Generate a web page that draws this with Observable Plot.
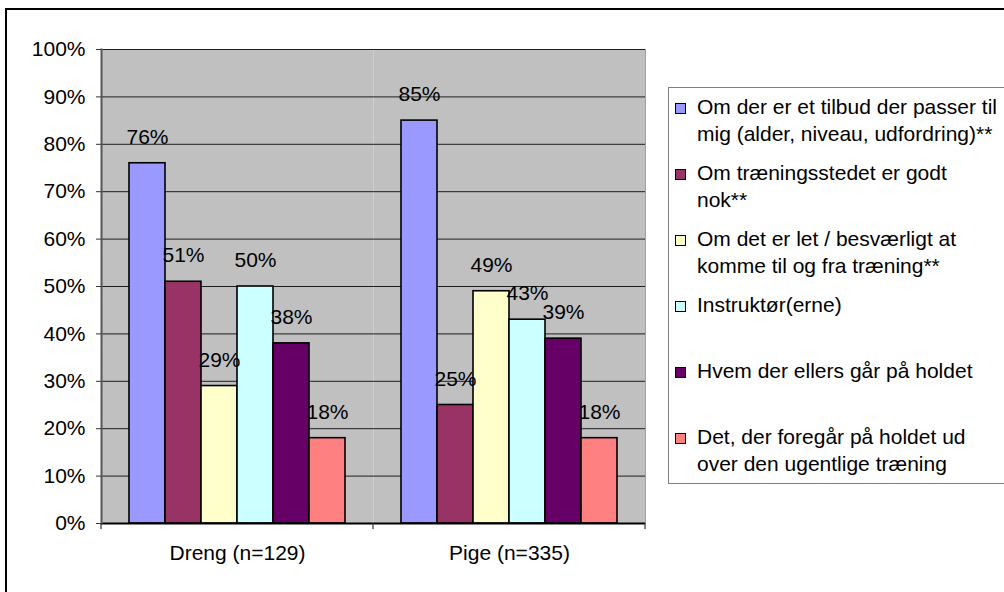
<!DOCTYPE html>
<html>
<head>
<meta charset="utf-8">
<script src="https://cdn.jsdelivr.net/npm/d3@7"></script>
<script src="https://cdn.jsdelivr.net/npm/@observablehq/plot@0.6"></script>
<style>
  html, body { margin: 0; padding: 0; background: #fff; }
  body { font-family: "Liberation Sans", Arial, sans-serif; }
  #wrap { position: relative; width: 1004px; height: 592px; overflow: hidden; background: #fff; }
  #outer { position: absolute; left: 5px; top: 8px; width: 1100px; height: 700px; border: 2px solid #000; }
  #chart { position: absolute; left: 0; top: 0; }
  #legend { position: absolute; left: 668px; top: 87px; width: 420px; height: 395px; border: 1px solid #808080; background: #fff; }
  .item { position: absolute; left: 0; width: 420px; height: 66px; }
  .sw { position: absolute; left: 6px; top: 9px; width: 11px; height: 11px; box-sizing: border-box; border: 1px solid #000; }
  .lab { position: absolute; left: 28px; top: 0; font-size: 21px; line-height: 26.5px; white-space: pre; color: #000; }
</style>
</head>
<body>
<div id="wrap">
  <div id="outer"></div>
  <div id="chart"></div>
  <div id="legend"></div>
</div>
<script>
// ---- data ----
const groups = ["Dreng (n=129)", "Pige (n=335)"];
const series = [
  "Om der er et tilbud der passer til mig (alder, niveau, udfordring)**",
  "Om træningsstedet er godt nok**",
  "Om det er let / besværligt at komme til og fra træning**",
  "Instruktør(erne)",
  "Hvem der ellers går på holdet",
  "Det, der foregår på holdet ud over den ugentlige træning"
];
const legendLabels = [
  "Om der er et tilbud der passer til\nmig (alder, niveau, udfordring)**",
  "Om træningsstedet er godt\nnok**",
  "Om det er let / besværligt at\nkomme til og fra træning**",
  "Instruktør(erne)",
  "Hvem der ellers går på holdet",
  "Det, der foregår på holdet ud\nover den ugentlige træning"
];
const drengValues = [0.76, 0.51, 0.29, 0.50, 0.38, 0.18];
const pigeValues  = [0.85, 0.25, 0.49, 0.43, 0.39, 0.18];
const colors = ["#9999FF", "#993366", "#FFFFCC", "#CCFFFF", "#660066", "#FF8080"];
const yTicks = [0, 0.1, 0.2, 0.3, 0.4, 0.5, 0.6, 0.7, 0.8, 0.9, 1.0];

const rows = [];
groups.forEach((g, gi) => {
  const vals = gi === 0 ? drengValues : pigeValues;
  series.forEach((s, si) => rows.push({group: g, series: s, value: vals[si]}));
});

const pct = d3.format(".0%");
const FONT = "'Liberation Sans', Arial, sans-serif";

const plot = Plot.plot({
  width: 1004,
  height: 592,
  marginLeft: 101,
  marginRight: 359,
  marginTop: 49,
  marginBottom: 69,
  style: {fontFamily: FONT, fontSize: "21px", background: "transparent", color: "#000", overflow: "visible"},
  fx: {domain: groups, padding: 0, label: null},
  x: {domain: series, paddingInner: 0, paddingOuter: 0.75, axis: null},
  y: {domain: [0, 1], label: null},
  color: {domain: series, range: colors},
  marks: [
    Plot.frame({fill: "#C0C0C0", stroke: null}),
    Plot.frame({anchor: "right", stroke: "#a0a0a0", facetAnchor: "right"}),
    Plot.gridY(yTicks.filter(d => d > 0), {stroke: "#000", strokeOpacity: 0.85, strokeWidth: 1}),
    Plot.barY(rows, {fx: "group", x: "series", y: "value", fill: "series", stroke: "#000", strokeWidth: 1.6}),
    Plot.text(rows, {fx: "group", x: "series", y: "value", text: d => pct(d.value), dy: -26, fontSize: 21, fill: "#000"}),
    Plot.ruleY([0], {stroke: "#000", strokeWidth: 2}),
    Plot.frame({anchor: "left", stroke: "#555", strokeWidth: 2, facetAnchor: "left"}),
    Plot.axisY({ticks: yTicks, tickFormat: pct, tickSize: 5, tickPadding: 11, fontSize: 21, label: null, stroke: "#333"}),
    Plot.axisFx({anchor: "bottom", tickSize: 0, tickPadding: 22, fontSize: 21, label: null})
  ]
});
document.getElementById("chart").appendChild(plot);

// boundary ticks on category axis (Excel style), from Plot's own scales
const fx = plot.scale("fx");
const ys = plot.scale("y");
const y0 = ys.apply(0);
const bounds = new Set();
groups.forEach(g => { const a = fx.apply(g); bounds.add(a); bounds.add(a + fx.bandwidth); });
const svg = d3.select(plot).filter(function() { return this.tagName.toLowerCase() === "svg"; }).empty()
  ? d3.select(plot).select("svg") : d3.select(plot);
svg.append("g").selectAll("line").data([...bounds]).join("line")
  .attr("x1", d => d).attr("x2", d => d)
  .attr("y1", y0).attr("y2", y0 + 6)
  .attr("stroke", "#333").attr("stroke-width", 1.2);

// legend
const legend = d3.select("#legend");
legendLabels.forEach((lab, i) => {
  const it = legend.append("div").attr("class", "item").style("top", (6 + 66 * i) + "px");
  it.append("div").attr("class", "sw").style("background", colors[i]);
  it.append("div").attr("class", "lab").text(lab);
});
</script>
</body>
</html>
